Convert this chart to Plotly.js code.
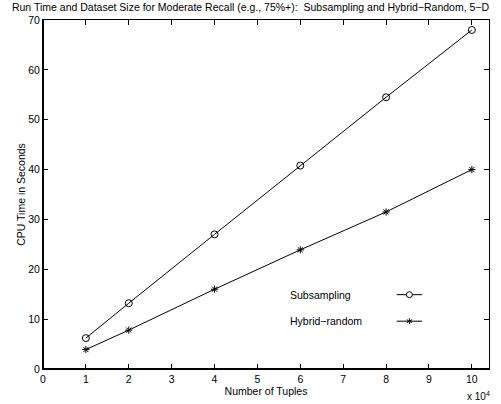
<!DOCTYPE html>
<html>
<head>
<meta charset="utf-8">
<script src="https://cdn.plot.ly/plotly-3.0.1.min.js"></script>
<style>html,body{margin:0;padding:0;background:#fff;}#chart{width:501px;height:404px;}</style>
</head>
<body>
<div id="chart"></div>
<script>
// Number of tuples, in units of 10^4
var tuples = [1, 2, 4, 6, 8, 10];
var subsampling = [6.2, 13.2, 27.0, 40.8, 54.5, 68.0];
var hybridRandom = [3.9, 7.8, 16.0, 23.9, 31.5, 40.0];
var xTicks = [0, 1, 2, 3, 4, 5, 6, 7, 8, 9, 10];
var yTicks = [0, 10, 20, 30, 40, 50, 60, 70];
var seriesNames = ['Subsampling', 'Hybrid\u2212random'];

var FONT = 'Liberation Sans, Arial, Helvetica, sans-serif';

var traces = [
  {x: tuples, y: subsampling, name: seriesNames[0], mode: 'lines+markers',
   line: {color: '#000', width: 1}, marker: {symbol: 'circle-open', size: 7, color: '#000', line: {width: 1, color: '#000'}}},
  {x: tuples, y: hybridRandom, name: seriesNames[1], mode: 'lines+markers',
   line: {color: '#000', width: 1}, marker: {symbol: 'asterisk-open', size: 6, color: '#000', line: {width: 1, color: '#000'}}}
];

// Legend sample geometry (paper coords)
var lx0 = 0.793, lx1 = 0.85, lxm = (lx0 + lx1) / 2;
var ly1 = 0.213, ly2 = 0.137;

var layout = {
  width: 501, height: 404,
  margin: {l: 43, r: 12, t: 20, b: 35},
  paper_bgcolor: '#fff', plot_bgcolor: '#fff',
  showlegend: false,
  font: {family: FONT, size: 10, color: '#000'},
  title: {text: 'Run Time and Dataset Size for Moderate Recall (e.g., 75%+):  Subsampling and Hybrid\u2212Random, 5\u2212D',
          font: {family: FONT, size: 10.5, color: '#000'}, x: 0.5, xanchor: 'center', y: 0.981, yanchor: 'middle'},
  xaxis: {range: [0, 10.4], tickvals: xTicks, ticktext: xTicks.map(String), ticks: 'inside', ticklen: 5,
          tickcolor: '#000', showline: true, linecolor: '#000', linewidth: 1, mirror: 'ticks',
          showgrid: false, zeroline: false, tickfont: {family: FONT, size: 10.5},
          title: {text: 'Number of Tuples', font: {family: FONT, size: 10.5}, standoff: 3}},
  yaxis: {range: [0, 70], tickvals: yTicks, ticks: 'inside', ticklen: 5,
          tickcolor: '#000', showline: true, linecolor: '#000', linewidth: 1, mirror: 'ticks',
          showgrid: false, zeroline: false, tickfont: {family: FONT, size: 10.5},
          title: {text: 'CPU Time in Seconds', font: {family: FONT, size: 10.5}, standoff: 0}},
  shapes: [
    {type: 'line', xref: 'paper', yref: 'paper', x0: 0, x1: 1, y0: 0, y1: 0, line: {color: '#000', width: 2}},
    {type: 'line', xref: 'paper', yref: 'paper', x0: 0, x1: 0, y0: 0, y1: 1, line: {color: '#000', width: 2}},
    // legend samples
    {type: 'line', xref: 'paper', yref: 'paper', x0: lx0, x1: lx1, y0: ly1, y1: ly1, line: {color: '#000', width: 1}},
    {type: 'circle', xref: 'paper', yref: 'paper', xsizemode: 'pixel', ysizemode: 'pixel', xanchor: lxm, yanchor: ly1,
     x0: -3, x1: 3, y0: -3, y1: 3, fillcolor: '#fff', line: {color: '#000', width: 1}},
    {type: 'line', xref: 'paper', yref: 'paper', x0: lx0, x1: lx1, y0: ly2, y1: ly2, line: {color: '#000', width: 1}},
    {type: 'line', xref: 'paper', yref: 'paper', xsizemode: 'pixel', ysizemode: 'pixel', xanchor: lxm, yanchor: ly2,
     x0: 0, x1: 0, y0: -3, y1: 3, line: {color: '#000', width: 1}},
    {type: 'line', xref: 'paper', yref: 'paper', xsizemode: 'pixel', ysizemode: 'pixel', xanchor: lxm, yanchor: ly2,
     x0: -2.6, x1: 2.6, y0: -1.5, y1: 1.5, line: {color: '#000', width: 1}},
    {type: 'line', xref: 'paper', yref: 'paper', xsizemode: 'pixel', ysizemode: 'pixel', xanchor: lxm, yanchor: ly2,
     x0: -2.6, x1: 2.6, y0: 1.5, y1: -1.5, line: {color: '#000', width: 1}}
  ],
  annotations: [
    {xref: 'paper', yref: 'paper', x: 0.55, y: ly1, xanchor: 'left', yanchor: 'middle', showarrow: false,
     text: seriesNames[0], font: {family: FONT, size: 10.5}},
    {xref: 'paper', yref: 'paper', x: 0.55, y: ly2, xanchor: 'left', yanchor: 'middle', showarrow: false,
     text: seriesNames[1], font: {family: FONT, size: 10.5}},
    {xref: 'paper', yref: 'paper', x: 0.977, y: -0.055, xanchor: 'center', yanchor: 'top', showarrow: false,
     text: 'x 10<sup>4</sup>', font: {family: FONT, size: 10}}
  ]
};

Plotly.newPlot('chart', traces, layout, {displayModeBar: false, staticPlot: true});
</script>
</body>
</html>
